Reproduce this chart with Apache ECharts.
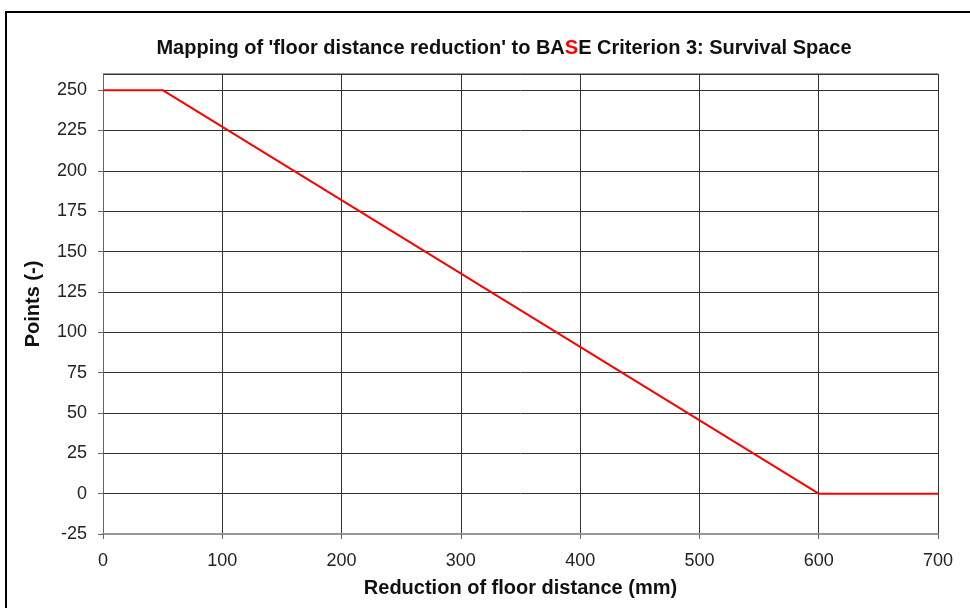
<!DOCTYPE html>
<html>
<head>
<meta charset="utf-8">
<script src="https://cdn.jsdelivr.net/npm/echarts@6/dist/echarts.min.js"></script>
<style>
  html, body { margin: 0; padding: 0; background: #fff; }
  #chart { width: 970px; height: 608px; }
</style>
</head>
<body>
<div id="chart"></div>
<script>
// reduction of floor distance (mm) -> points
const xValues = [0, 50, 600, 700];
const yValues = [250, 250, 0, 0];
const xTicks = [0, 100, 200, 300, 400, 500, 600, 700];
const yTicks = [-25, 0, 25, 50, 75, 100, 125, 150, 175, 200, 225, 250];

const font = "Liberation Sans, Arial, sans-serif";
const chart = echarts.init(document.getElementById("chart"));

const option = {
  backgroundColor: "#fff",
  animation: false,
  title: {
    text: "Mapping of 'floor distance reduction' to BA{r|S}E Criterion 3: Survival Space",
    left: 499,
    textAlign: "center",
    top: 33,
    textStyle: {
      fontFamily: font,
      fontSize: 20,
      fontWeight: "bold",
      color: "#111",
      rich: {
        r: { fontFamily: font, fontSize: 20, fontWeight: "bold", color: "#ff0000" }
      }
    }
  },
  graphic: [
    {
      type: "polyline",
      shape: { points: [[6, 608], [6, 12], [970, 12]] },
      style: { stroke: "#000", lineWidth: 2, fill: null }
    },
    {
      // grey top border of the plot area
      type: "line",
      shape: { x1: 103, y1: 74, x2: 938, y2: 74 },
      style: { stroke: "#999", lineWidth: 2 }
    }
  ],
  grid: { left: 103, right: 32, top: 74, bottom: 74 },
  xAxis: {
    type: "value",
    min: xTicks[0],
    max: xTicks[xTicks.length - 1],
    interval: 100,
    name: "Reduction of floor distance (mm)",
    nameLocation: "middle",
    nameGap: 44,
    nameTextStyle: { fontFamily: font, fontSize: 20, fontWeight: "bold", color: "#111" },
    axisLine: { show: true, onZero: false, lineStyle: { color: "#999", width: 2 } },
    axisTick: { show: true, length: 5, lineStyle: { color: "#666" } },
    axisLabel: { fontFamily: font, fontSize: 18, color: "#222", margin: 18 },
    splitLine: { show: true, lineStyle: { color: "#333", width: 1 } }
  },
  yAxis: {
    type: "value",
    min: yTicks[0],
    max: 260,
    interval: 25,
    name: "Points (-)",
    nameLocation: "middle",
    nameGap: 60,
    nameTextStyle: { fontFamily: font, fontSize: 20, fontWeight: "bold", color: "#111" },
    axisLine: { show: true, lineStyle: { color: "#666", width: 1 } },
    axisTick: { show: true, length: 5, lineStyle: { color: "#666" } },
    axisLabel: {
      fontFamily: font, fontSize: 18, color: "#222", margin: 16,
      showMaxLabel: false,
      formatter: v => (yTicks.indexOf(v) >= 0 ? String(v) : "")
    },
    splitLine: { show: true, lineStyle: { color: "#333", width: 1 } }
  },
  series: [
    {
      type: "line",
      data: xValues.map((x, i) => [x, yValues[i]]),
      symbol: "none",
      lineStyle: { color: "#ff0000", width: 2 }
    }
  ]
};

chart.setOption(option);
</script>
</body>
</html>
